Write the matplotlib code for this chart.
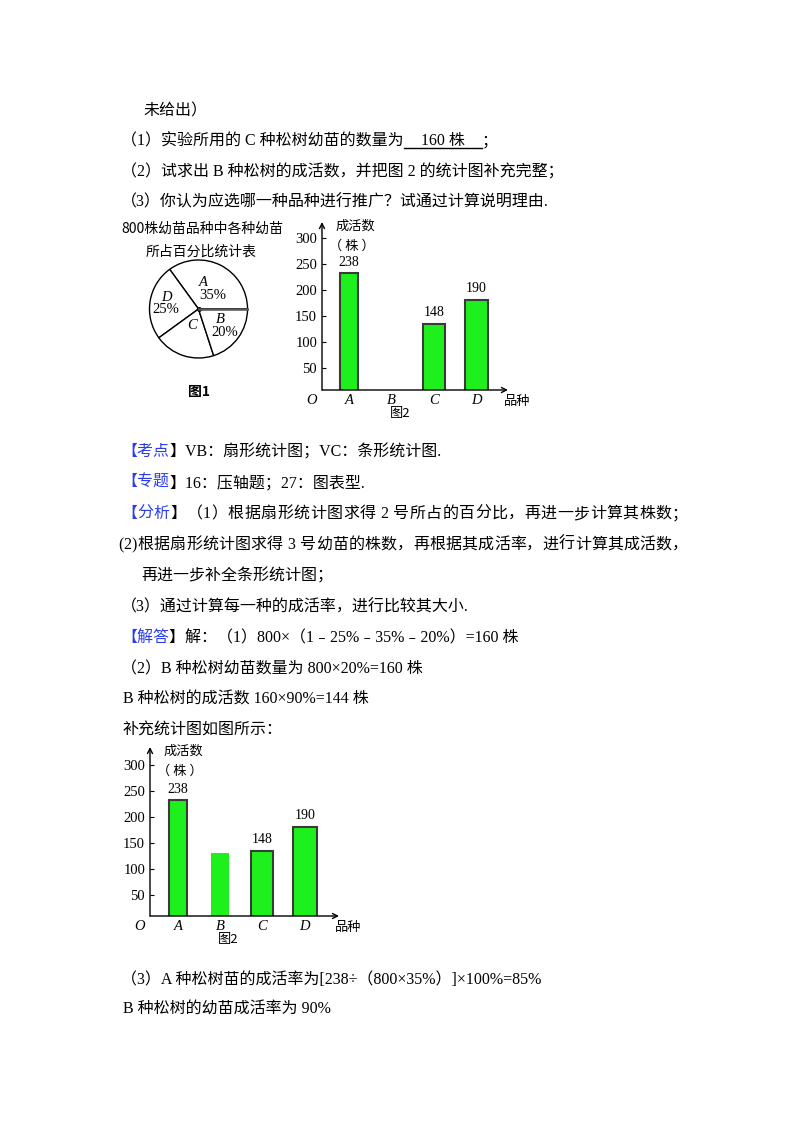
import numpy as np
import matplotlib
matplotlib.use("Agg")
import matplotlib.pyplot as plt

# =========================
# DATA
# =========================

pie_names = ["A", "D", "C", "B"]
pie_shares = [35, 25, 20, 20]
pie_shown = ["35%", "25%", "", "20%"]

breeds = ["A", "B", "C", "D"]
alive_given = [232, 0, 135, 181]     # 图2 as printed in the question
alive_full = [232, 131, 135, 181]    # 图2 after B has been filled in
alive_text = ["238", "", "148", "190"]
y_ticks = [50, 100, 150, 200, 250, 300]

top_lines = [
    "未给出）",
    "（1）实验所用的 C 种松树幼苗的数量为",
    "（2）试求出 B 种松树的成活数，并把图 2 的统计图补充完整；",
    "（3）你认为应选哪一种品种进行推广？试通过计算说明理由.",
]
answer_c = "160 株"

notes = [
    ("【考点", "】VB：扇形统计图；VC：条形统计图."),
    ("【专题", "】16：压轴题；27：图表型."),
    ("【分析", "】（1）根据扇形统计图求得 2 号所占的百分比，再进一步计算其株数；"),
]
analysis_rest = [
    "(2)根据扇形统计图求得 3 号幼苗的株数，再根据其成活率，进行计算其成活数，",
    "再进一步补全条形统计图；",
    "（3）通过计算每一种的成活率，进行比较其大小.",
]
solution = ("【解答", "】解：（1）800×（1﹣25%﹣35%﹣20%）=160 株")
solution_rest = [
    "（2）B 种松树幼苗数量为 800×20%=160 株",
    "B 种松树的成活数 160×90%=144 株",
    "补充统计图如图所示：",
]
tail_lines = [
    "（3）A 种松树苗的成活率为[238÷（800×35%）]×100%=85%",
    "B 种松树的幼苗成活率为 90%",
]

# =========================
# PAGE SETUP
# =========================

W, H = 800, 1132
BODY = ["Liberation Serif", "Noto Sans CJK SC"]
CJK = ["Noto Sans CJK SC", "DejaVu Sans"]
BLUE = "#2b3cf0"
GREEN = "#1ef01e"
EDGE = "#3a3a3a"
FS = 11.5
LEFT = 121
RIGHT = 688

plt.rcParams["font.family"] = BODY
fig = plt.figure(figsize=(W / 100, H / 100), dpi=100)
fig.patch.set_facecolor("white")
rend = fig.canvas.get_renderer()


def fx(x):
    return x / W


def fy(y):
    return 1 - y / H


def advance(s, size=FS, fam=BODY):
    a = fig.text(0, 0, "|" + s + "|", fontsize=size, family=fam)
    b = fig.text(0, 0, "||", fontsize=size, family=fam)
    w = a.get_window_extent(rend).width - b.get_window_extent(rend).width
    a.remove()
    b.remove()
    return w


def put(x, y, s, color="black", size=FS, fam=BODY):
    # y is the middle of the CJK glyphs, drawn on a baseline a bit lower
    fig.text(fx(x), fy(y + 6), s, fontsize=size, color=color, family=fam,
             ha="left", va="baseline")
    return x + advance(s, size, fam)


def put_justified(x, y, segs, right=RIGHT):
    # spread a full line out to the right margin, like the page does
    chars = [(c, col) for s, col in segs for c in s]
    widths = [advance(c) for c, _ in chars]
    extra = (right - x - sum(widths)) / (len(chars) - 1)
    for (c, col), w in zip(chars, widths):
        if c != " ":
            fig.text(fx(x), fy(y + 6), c, fontsize=FS, color=col,
                     family=BODY, ha="left", va="baseline")
        x += w + extra


# =========================
# TEXT
# =========================

line_y = [109, 139, 170, 200]
put(143, line_y[0], top_lines[0])
x = put(LEFT, line_y[1], top_lines[1])
gap = 17
w_ans = advance(answer_c)
put(x + gap, line_y[1], answer_c)
x_end = x + gap * 2 + w_ans
fig.add_artist(plt.Line2D([fx(x), fx(x_end)], [fy(line_y[1] + 9)] * 2,
                          color="black", lw=1))
put(x_end, line_y[1], "；")
put(LEFT, line_y[2], top_lines[2])
put(LEFT, line_y[3], top_lines[3])

y0, dy = 450, 31
for i, (tag, rest) in enumerate(notes[:2]):
    x = put(LEFT, y0 + i * dy, tag, color=BLUE)
    put(x, y0 + i * dy, rest)
put_justified(LEFT, y0 + 2 * dy, [(notes[2][0], BLUE), (notes[2][1], "black")])
put_justified(LEFT - 3, y0 + 3 * dy, [(analysis_rest[0], "black")])
put(141, y0 + 4 * dy, analysis_rest[1])
put(LEFT, y0 + 5 * dy, analysis_rest[2])
x = put(LEFT, y0 + 6 * dy, solution[0], color=BLUE)
put(x, y0 + 6 * dy, solution[1])
for i, s in enumerate(solution_rest):
    put(LEFT + (2 if i else 0), y0 + (7 + i) * dy, s)

put(LEFT, 978, tail_lines[0])
put(LEFT + 2, 1008, tail_lines[1])

# =========================
# PIE (图1)
# =========================

fig.text(fx(202), fy(229), "800株幼苗品种中各种幼苗", fontsize=10, family=CJK,
         ha="center", va="center")
fig.text(fx(201), fy(252), "所占百分比统计表", fontsize=10, family=CJK,
         ha="center", va="center")
fig.text(fx(199), fy(392), "图1", fontsize=10, family=CJK, ha="center",
         va="center", fontweight="bold")

pax = fig.add_axes([fx(148.5), fy(359), 100 / W, 100 / H])
pax.pie(pie_shares, startangle=0, counterclock=True, radius=1,
        colors=["white"] * 4,
        wedgeprops=dict(edgecolor="black", linewidth=1))
pax.set_aspect("equal")
pax.set_xlim(-1.02, 1.02)
pax.set_ylim(-1.02, 1.02)
pax.axis("off")
pax.plot([0], [0], "o", color="black", ms=2.5)
pax.plot([0, 1], [0, 0], color="#555555", lw=1.8)

label_r = [0.45, 0.66, 0.4, 0.6]
name_dx = [-0.1, 0.0, 0.0, -0.04]
pct_dx = [0.08, -0.02, 0.0, 0.05]
start = 0
for name, share, shown, r, ndx, pdx in zip(pie_names, pie_shares, pie_shown,
                                           label_r, name_dx, pct_dx):
    mid = np.deg2rad(start + share * 3.6 / 2)
    cx, cy = r * np.cos(mid), r * np.sin(mid)
    if shown:
        pax.text(cx + ndx, cy + 0.14, name, fontsize=10.5, style="italic",
                 ha="center", va="center")
        pax.text(cx + pdx, cy - 0.12, shown, fontsize=10.5,
                 ha="center", va="center")
    else:
        pax.text(cx, cy + 0.05, name, fontsize=10.5, style="italic",
                 ha="center", va="center")
    start += share * 3.6


# =========================
# BAR CHARTS (图2)
# =========================

def bar_chart(left, top, right, bottom, heights, edges, widths, xmin, xmax,
              ymin, ymax):
    ax = fig.add_axes([fx(left), fy(bottom), (right - left) / W,
                       (bottom - top) / H])
    ax.bar(range(len(breeds)), heights, width=widths, color=GREEN,
           edgecolor=edges, linewidth=1.5)
    ax.set_xlim(xmin, xmax)
    ax.set_ylim(ymin, ymax)
    for sp in ax.spines.values():
        sp.set_visible(False)
    arrow = dict(arrowstyle="->", lw=1, color="black", shrinkA=0, shrinkB=0,
                 mutation_scale=9)
    ax.annotate("", xy=(0, 1), xytext=(0, 0), xycoords="axes fraction",
                arrowprops=arrow)
    ax.annotate("", xy=(1, 0), xytext=(0, 0), xycoords="axes fraction",
                arrowprops=arrow)
    ax.set_yticks(y_ticks)
    ax.tick_params(axis="y", direction="in", length=3, width=0.8, pad=3.5,
                   labelsize=10.5)
    ax.set_xticks(range(len(breeds)))
    ax.set_xticklabels(breeds, fontstyle="italic", fontsize=10.5)
    ax.tick_params(axis="x", length=0, pad=3)
    for i, (h, t) in enumerate(zip(heights, alive_text)):
        if t:
            ax.annotate(t, xy=(i, h), xytext=(0, 11),
                        textcoords="offset pixels", ha="center",
                        va="center", fontsize=10)
    ax.annotate("O", xy=(0, 0), xycoords="axes fraction", xytext=(-10, -10),
                textcoords="offset pixels", ha="center", va="center",
                fontsize=10.5, style="italic")
    ax.annotate("成活数", xy=(0, 1), xycoords="axes fraction",
                xytext=(33, -4), textcoords="offset pixels", ha="center",
                va="center", fontsize=9.5, family=CJK)
    ax.annotate("（ 株 ）", xy=(0, 1), xycoords="axes fraction",
                xytext=(30, -24), textcoords="offset pixels", ha="center",
                va="center", fontsize=9.5, family=CJK)
    ax.annotate("品种", xy=(1, 0), xycoords="axes fraction",
                xytext=(9, -11), textcoords="offset pixels", ha="center",
                va="center", fontsize=9.5, family=CJK)
    ax.annotate("图2", xy=(0, 0), xycoords="axes fraction",
                xytext=(78, -24), textcoords="offset pixels", ha="center",
                va="center", fontsize=9.5, family=CJK)
    return ax


bar_chart(322, 222, 508, 390, alive_given,
          [EDGE, EDGE, EDGE, EDGE], [0.42, 0.5, 0.52, 0.54],
          -0.635, 3.74, 7.7, 330.8)
bar_chart(150, 747, 339, 916, alive_full,
          [EDGE, "none", EDGE, EDGE], [0.43, 0.43, 0.52, 0.57],
          -0.66, 3.81, 9.6, 334.6)

plt.savefig("out.png", dpi=100, facecolor="white")
plt.close()
